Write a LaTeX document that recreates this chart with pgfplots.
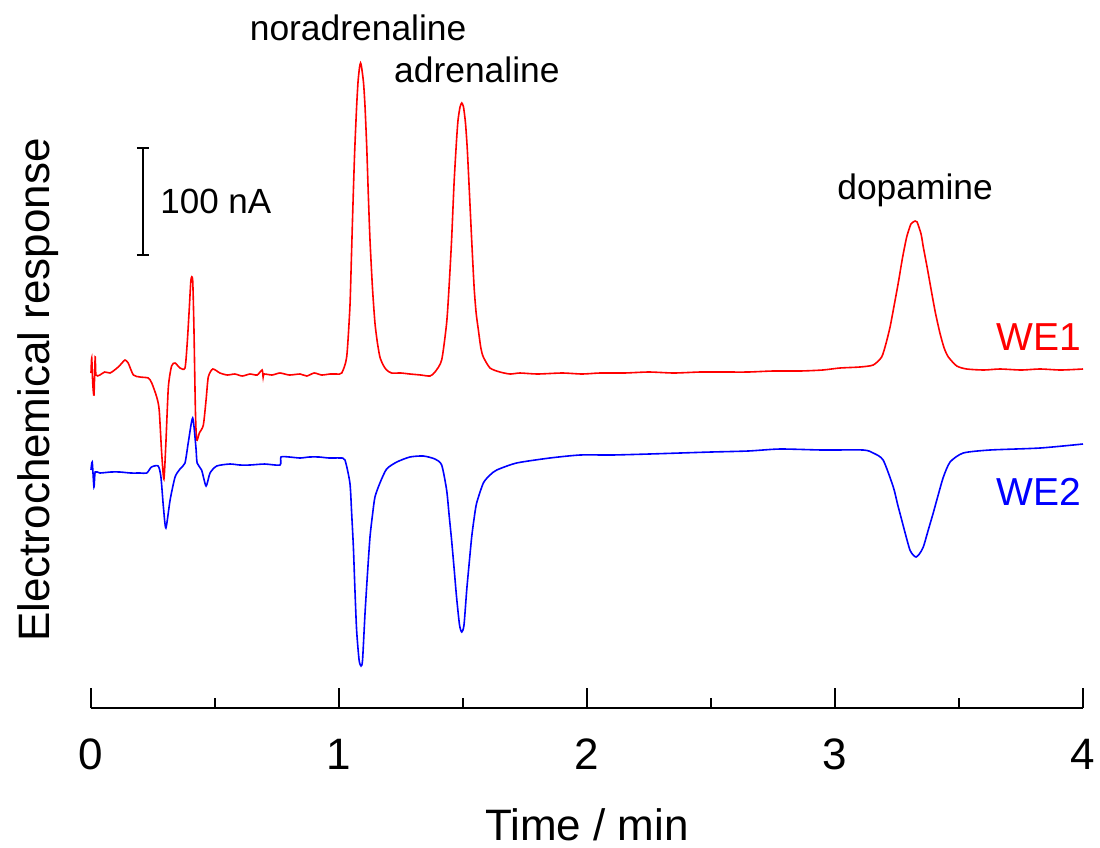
\documentclass[border=0pt]{standalone}
\usepackage{fontspec}
\setmainfont{Liberation Sans}
\usepackage{pgfplots}
\pgfplotsset{compat=1.18}
\definecolor{trRed}{RGB}{255,0,0}
\definecolor{trBlue}{RGB}{0,0,255}
\begin{document}
\begin{tikzpicture}
\begin{axis}[
  scale only axis,
  width=496pt, height=354pt,
  xmin=0, xmax=4, ymin=0, ymax=708,
  clip=false,
  axis x line*=bottom,
  axis y line=none,
  x axis line style={line width=0.75pt, -},
  xtick={0,1,2,3,4},
  minor xtick={0.5,1.5,2.5,3.5},
  xtick align=inside,
  major tick length=10pt,
  minor tick length=5pt,
  every tick/.style={black, line width=0.75pt},
  ytick=\empty,
  /pgf/number format/assume math mode=true,
  xticklabel style={font=\fontsize{22}{22}\selectfont, yshift=-12pt},
  xlabel={Time / min},
  xlabel style={font=\fontsize{22}{22}\selectfont, at={(axis cs:2,-132)}, anchor=base},
]
% WE1 (red)
\addplot[trRed, line width=0.8pt, smooth, tension=0.4] coordinates {
(0.000,335) (0.003,350) (0.007,325) (0.012,313) (0.017,351) (0.020,333)
(0.036,333) (0.055,336) (0.077,335) (0.095,338) (0.110,341) (0.125,345) (0.137,348) (0.150,345)
(0.171,333) (0.198,331) (0.231,330) (0.245,325) (0.265,311) (0.275,298)
(0.285,255) (0.294,229) (0.302,265) (0.312,321) (0.325,342) (0.339,345)
(0.359,340) (0.379,340) (0.388,365) (0.396,398) (0.403,428) (0.410,428)
(0.415,381) (0.421,298) (0.426,268) (0.437,275) (0.453,283) (0.464,308)
(0.473,331) (0.491,339) (0.520,335) (0.550,333) (0.580,334) (0.610,332) (0.641,334) (0.670,333) (0.690,338)
(0.694,331) (0.698,334) (0.730,333) (0.762,335) (0.800,333) (0.843,334) (0.870,332) (0.900,335) (0.930,333) (0.964,334)
(0.990,334) (1.011,335) (1.031,351) (1.044,401) (1.050,450) (1.056,501) (1.063,555) (1.071,601) (1.077,627)
(1.083,641) (1.087,645) (1.091,641) (1.099,625) (1.105,601) (1.112,560) (1.118,515) (1.125,468)
(1.135,420) (1.145,385) (1.155,365) (1.165,351) (1.178,343)
(1.192,338) (1.212,335) (1.250,335) (1.286,334) (1.330,333) (1.367,332) (1.387,336) (1.414,348)
(1.434,385) (1.444,422) (1.454,468) (1.464,525) (1.474,568) (1.480,588) (1.488,601) (1.495,605) (1.502,601)
(1.510,585) (1.517,560) (1.525,520) (1.535,468) (1.545,420) (1.553,395) (1.562,378) (1.572,360) (1.582,351) (1.609,340) (1.649,336)
(1.690,334) (1.730,335) (1.800,334) (1.900,335) (1.980,334) (2.052,335) (2.150,335) (2.250,336) (2.350,335) (2.456,336) (2.550,336) (2.650,336)
(2.750,337) (2.859,337) (2.950,338) (3.020,340) (3.100,341) (3.154,343) (3.188,351) (3.205,364) (3.222,381) (3.238,402) (3.255,425)
(3.272,450) (3.289,471) (3.306,484) (3.315,486) (3.323,487) (3.331,486) (3.347,474) (3.356,461) (3.372,440) (3.390,415)
(3.405,395) (3.423,375) (3.440,360) (3.457,351) (3.491,342) (3.531,339) (3.600,338) (3.665,339) (3.750,338)
(3.827,339) (3.910,338) (4.000,339)
};
% WE2 (blue)
\addplot[trBlue, line width=0.8pt, smooth, tension=0.4] coordinates {
(0.000,238) (0.005,246) (0.012,221) (0.017,236) (0.036,235) (0.080,236)
(0.117,236) (0.160,235) (0.198,235) (0.225,235) (0.244,241) (0.271,242)
(0.282,231) (0.292,201) (0.302,180) (0.319,208) (0.339,231) (0.359,239)
(0.379,245) (0.392,265) (0.410,290) (0.423,261) (0.428,245) (0.446,238)
(0.464,222) (0.480,235) (0.507,242) (0.560,244) (0.600,243) (0.641,243) (0.700,244)
(0.762,243) (0.766,251) (0.800,251) (0.843,250) (0.880,251) (0.920,251) (0.960,250) (1.004,250) (1.024,248)
(1.044,225) (1.051,195) (1.058,161) (1.064,120) (1.071,78) (1.081,48) (1.089,42) (1.095,48)
(1.105,95) (1.115,135) (1.125,171) (1.135,193) (1.145,211) (1.165,225) (1.192,239) (1.233,246)
(1.286,251) (1.340,252) (1.387,249) (1.414,243) (1.434,218) (1.444,193) (1.454,168) (1.464,140)
(1.474,111) (1.486,83) (1.495,76) (1.504,83) (1.515,118) (1.525,145) (1.535,171) (1.545,190)
(1.555,205) (1.582,225) (1.609,233) (1.636,238) (1.716,245) (1.850,250)
(1.972,253) (2.100,253) (2.250,254) (2.375,255) (2.500,256) (2.650,257) (2.778,259) (2.950,258) (3.114,258) (3.154,255) (3.194,248)
(3.235,221) (3.252,204) (3.269,188) (3.286,172) (3.302,158) (3.315,153) (3.327,151) (3.340,154) (3.356,161) (3.376,178) (3.396,195)
(3.416,213) (3.437,231) (3.464,246) (3.517,255) (3.625,258) (3.827,260) (4.000,264)
};
% scale bar
\draw[black, line width=0.75pt] (axis cs:0.2097,453) -- (axis cs:0.2097,560);
\draw[black, line width=0.75pt] (axis cs:0.1855,560) -- (axis cs:0.2339,560);
\draw[black, line width=0.75pt] (axis cs:0.1855,453) -- (axis cs:0.2339,453);
\node[anchor=base west, inner sep=0pt, font=\fontsize{17.5}{17.5}\selectfont] at (axis cs:0.278,495) {100 nA};
% annotations
\node[anchor=base, inner sep=0pt, font=\fontsize{17.7}{17.7}\selectfont] at (axis cs:1.077,667) {noradrenaline};
\node[anchor=base, inner sep=0pt, font=\fontsize{17.7}{17.7}\selectfont] at (axis cs:1.556,625) {adrenaline};
\node[anchor=base, inner sep=0pt, font=\fontsize{17.7}{17.7}\selectfont] at (axis cs:3.323,509) {dopamine};
\node[anchor=base east, inner sep=0pt, text=trRed, font=\fontsize{19.5}{19.5}\selectfont] at (axis cs:3.995,358) {WE1};
\node[anchor=base east, inner sep=0pt, text=trBlue, font=\fontsize{19.5}{19.5}\selectfont] at (axis cs:3.995,203) {WE2};
\node[rotate=90, anchor=base, inner sep=0pt, font=\fontsize{22}{22}\selectfont] at (axis cs:-0.1653,318) {Electrochemical response};
\coordinate (BBL) at (axis cs:-0.3669,-139);
\coordinate (BTR) at (axis cs:4.0685,708);
\end{axis}
\pgfresetboundingbox
\path[use as bounding box] (BBL) rectangle (BTR);
\end{tikzpicture}
\end{document}
